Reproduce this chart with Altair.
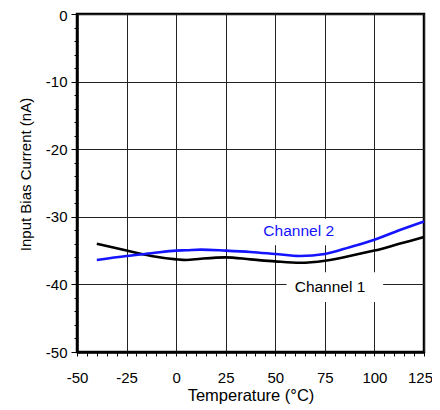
import altair as alt
import pandas as pd

# Temperature (°C) sample points
temps = [-40, -25, -12.5, 0, 5, 12.5, 25, 37.5, 50, 62.5, 75, 87.5, 100, 112.5, 125]
# Input bias current (nA)
ch1 = [-34.0, -35.0, -35.8, -36.3, -36.4, -36.2, -36.0, -36.3, -36.6, -36.8, -36.5, -35.8, -35.0, -34.0, -33.0]
ch2 = [-36.4, -35.8, -35.4, -35.0, -34.95, -34.85, -35.0, -35.2, -35.5, -35.8, -35.5, -34.5, -33.4, -32.0, -30.7]

series_names = ["Channel 1", "Channel 2"]
series_colors = ["#000000", "#1414ff"]

# Label annotations (text, x, y) and their white backing boxes
label_text = ["Channel 2", "Channel 1"]
label_x = [61.8, 77.6]
label_y = [-32.1, -40.4]
box_x1 = [42, 55.7]
box_x2 = [82, 104.4]
box_y1 = [-30.3, -38.2]
box_y2 = [-34.2, -42.6]

FONT = "Liberation Sans, Arial, sans-serif"

rows = []
for t, a, b in zip(temps, ch1, ch2):
    rows.append({"T": t, "I": a, "s": series_names[0]})
    rows.append({"T": t, "I": b, "s": series_names[1]})
df = pd.DataFrame(rows)

labels = pd.DataFrame({
    "text": label_text, "x": label_x, "y": label_y,
    "x1": box_x1, "x2": box_x2, "y1": box_y1, "y2": box_y2,
    "s": ["Channel 2", "Channel 1"],
})

x_scale = alt.Scale(domain=[-50, 125], nice=False, zero=False)
y_scale = alt.Scale(domain=[-50, 0], nice=False, zero=False)

x_axis = alt.Axis(
    title="Temperature (°C)",
    values=list(range(-50, 126, 5)),
    tickCount=500,
    labelExpr="datum.value % 25 === 0 ? toString(datum.value) : ''",
    grid=True,
    gridColor="#222222",
    gridWidth=1,
    gridOpacity={"condition": {"test": "datum.value % 25 === 0", "value": 1}, "value": 0},
    tickSize=4,
    tickColor="#000000",
    tickWidth=1,
    labelPadding=14,
    labelOffset={"condition": {"test": "datum.value === 125", "value": -4}, "value": 0},
    labelFlush=False,
    labelOverlap=False,
    labelFontSize=15,
    labelFont=FONT,
    labelColor="#000000",
    titleFontSize=16.5,
    titleFont=FONT,
    titleFontWeight="normal",
    titleColor="#000000",
    titleBaseline="alphabetic",
    titleY=48,
    domainColor="#000000",
    domainWidth=2.5,
)

y_axis = alt.Axis(
    title="Input Bias Current (nA)",
    values=list(range(-50, 1, 2)),
    tickCount=500,
    labelExpr="datum.value % 10 === 0 ? toString(datum.value) : ''",
    grid=True,
    gridColor="#222222",
    gridWidth=1,
    gridOpacity={"condition": {"test": "datum.value % 10 === 0", "value": 1}, "value": 0},
    tickSize={"condition": {"test": "datum.value % 10 === 0", "value": 6}, "value": 3},
    tickColor="#000000",
    tickWidth=1,
    labelPadding=4,
    labelOffset={"condition": {"test": "datum.value === 0", "value": 1}, "value": 0},
    labelFlush=False,
    labelOverlap=False,
    labelFontSize=15,
    labelFont=FONT,
    labelColor="#000000",
    titleFontSize=15,
    titleFont=FONT,
    titleFontWeight="normal",
    titleColor="#000000",
    titleAngle=270,
    titleBaseline="alphabetic",
    titleX=-47,
    titleY=160,
    domainColor="#000000",
    domainWidth=2.5,
)

color_scale = alt.Scale(domain=series_names, range=series_colors)

lines = alt.Chart(df).mark_line(strokeWidth=2.6, interpolate="monotone").encode(
    x=alt.X("T:Q", scale=x_scale, axis=x_axis),
    y=alt.Y("I:Q", scale=y_scale, axis=y_axis),
    color=alt.Color("s:N", scale=color_scale, legend=None),
)

boxes = alt.Chart(labels).mark_rect(fill="white").encode(
    x="x1:Q", x2="x2:Q", y="y1:Q", y2="y2:Q",
)

texts = alt.Chart(labels).mark_text(
    font=FONT, fontSize=15.5, align="center", baseline="middle"
).encode(
    x="x:Q", y="y:Q", text="text:N",
    color=alt.Color("s:N", scale=color_scale, legend=None),
)

chart = alt.layer(boxes, lines, texts).properties(
    width=347,
    height=338,
    autosize=alt.AutoSizeParams(type="none"),
    padding={"left": 69, "top": 6, "right": 8, "bottom": 56},
    background="white",
).configure_view(
    stroke="#000000",
    strokeWidth=2.5,
)

chart.save("out.html", embed_options={"renderer": "svg", "actions": False})
